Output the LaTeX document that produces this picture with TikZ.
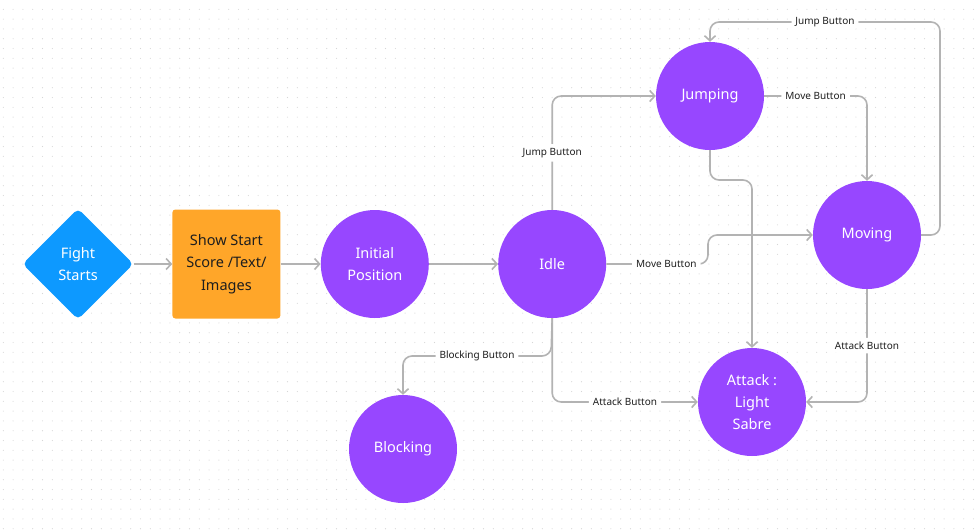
\documentclass[tikz,border=0pt]{standalone}
\usepackage{fontspec}
\setmainfont{Noto Sans}
\usetikzlibrary{shapes.geometric,positioning,arrows.meta}
\definecolor{flowblue}{HTML}{0D99FF}
\definecolor{floworange}{HTML}{FFA629}
\definecolor{statepurple}{HTML}{9747FF}
\definecolor{linkgray}{HTML}{B3B3B3}
\definecolor{inkdark}{HTML}{1E1E1E}
\definecolor{dotgray}{HTML}{D6D6D6}

\begin{document}
\begin{tikzpicture}[x=1pt,y=-1pt,node distance=40pt,
start/.style={
% The shape:
diamond, minimum width=111pt, minimum height=111pt, inner sep=0pt,
rounded corners=5pt,
% The rest
fill=flowblue, text=white, align=center,
font=\fontsize{14.5}{22}\selectfont},
screen/.style={
rectangle, minimum width=108pt, minimum height=109pt, inner sep=0pt,
rounded corners=3pt,
fill=floworange, text=inkdark, align=center,
font=\fontsize{14.5}{22.5}\selectfont},
state/.style={
circle, minimum size=108pt, inner sep=0pt,
fill=statepurple, text=white, align=center,
font=\fontsize{14.5}{22}\selectfont},
link/.style={draw=linkgray, line width=1.6pt, rounded corners=9pt,
-{Straight Barb[length=5pt,width=11pt]}},
btn/.style={fill=white, inner sep=4pt, text=inkdark,
font=\fontsize{10}{11}\selectfont}]

% background with dots
\fill[white] (0,0) rectangle (976,531);
\useasboundingbox (0,0) rectangle (976,531);
\foreach \gx in {0,...,99}
\foreach \gy in {0,...,54}
\fill[dotgray] (3.3+9.8*\gx, 9.3+9.8*\gy) circle (0.55pt);

\node (Fight) [start] at (78,264) {Fight\\Starts};
\node (ShowStart) [screen,right=38.5pt of Fight] {Show Start\\Score /Text/\\Images};
\node (Initial) [state,right=of ShowStart] {Initial\\Position};
\node (Idle) [state,right=69pt of Initial] {Idle};
\node (Jumping) [state] at (710,96) {Jumping};
\node (Moving) [state] at (867,235) {Moving};
\node (Attack) [state] at (752,402) {Attack :\\Light\\Sabre};
\node (Blocking) [state] at (403,449) {Blocking};

\path
(Fight) edge[link] (ShowStart) % simple edges
(ShowStart) edge[link] (Initial)
(Initial) edge[link] (Idle);

\draw[link] (Idle.north) -- node[btn]{Jump Button} (Idle.north |- Jumping.west) -- (Jumping.west);
\draw[link] (Idle.east) -- node[btn,pos=0.59]{Move Button} (708,264) -- (708,235) -- (Moving.west);
\draw[link] (Jumping.east) -- node[btn]{Move Button} (Moving.north |- Jumping.east) -- (Moving.north);
\draw[link] (Moving.east) -- (940,235) -- (940,22) -- node[btn]{Jump Button} (710,22) -- (Jumping.north);
\draw[link] (Jumping.south) -- (710,180) -- (752,180) -- (Attack.north);
\draw[link] (Moving.south) -- node[btn]{Attack Button} (Moving.south |- Attack.east) -- (Attack.east);
\draw[link] (Idle.south) -- (Idle.south |- Attack.west) -- node[btn]{Attack Button} (Attack.west);
\draw[link] (Idle.south) -- (551,356) -- node[btn]{Blocking Button} (403,356) -- (Blocking.north);

\end{tikzpicture}
\end{document}
